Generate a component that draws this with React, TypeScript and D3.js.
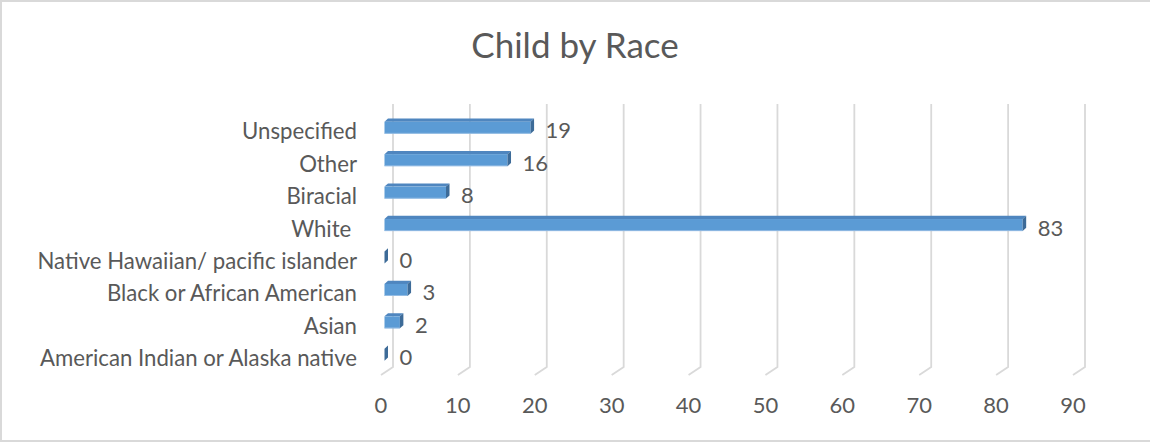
import React from "react";
import * as d3 from "d3";

// Categories listed top to bottom as they appear on the chart
const categories = [
  "Unspecified",
  "Other",
  "Biracial",
  "White ",
  "Native Hawaiian/ pacific islander",
  "Black or African American",
  "Asian",
  "American Indian or Alaska native",
];
const counts = [19, 16, 8, 83, 0, 3, 2, 0];
const tickValues = [0, 10, 20, 30, 40, 50, 60, 70, 80, 90];
const chartTitle = "Child by Race";

const W = 1150;
const H = 444;
const FONT = "Lato, 'Open Sans', sans-serif";
const TEXT = "#595959";
const GRID = "#d9d9d9";

// floor offset from the back wall to the front edge
const FLOOR_DX = -12;
const FLOOR_DY = 8;
// bar offset from the back wall, and bar depth
const BAR_DX = -8.5;
const DEPTH_X = 3.5;
const DEPTH_Y = -3.2;
const BAR_H = 12;

export default function App() {
  const x = d3.scaleLinear().domain([0, 90]).range([393, 1085]);
  const y = d3
    .scaleBand<string>()
    .domain(categories)
    .range([111.5, 371])
    .padding(0);
  const wallTop = 104;
  const wallBottom = 367;

  return (
    <svg
      width={W}
      height={H}
      style={{ position: "absolute", left: 0, top: 0, background: "#fff" }}
      fontFamily={FONT}
    >
      <rect x={1} y={1} width={W + 10} height={440} fill="#fff" stroke={GRID} strokeWidth={2} />

      <text x={W / 2} y={58} textAnchor="middle" fontSize={35} fill={TEXT}>
        {chartTitle}
      </text>

      {/* back wall gridlines with their floor segments */}
      {tickValues.map((t) => (
        <path
          key={"g" + t}
          d={`M${x(t)},${wallTop}L${x(t)},${wallBottom}L${x(t) + FLOOR_DX},${wallBottom + FLOOR_DY}`}
          fill="none"
          stroke={GRID}
          strokeWidth={1.8}
        />
      ))}

      {/* value axis tick labels along the front edge */}
      {tickValues.map((t) => (
        <text
          key={"t" + t}
          x={x(t) + FLOOR_DX}
          y={413}
          textAnchor="middle"
          fontSize={22}
          fill={TEXT}
        >
          {t}
        </text>
      ))}

      {/* category labels */}
      {categories.map((c) => (
        <text
          key={"c" + c}
          x={357}
          y={(y(c) as number) + y.bandwidth() / 2 + 3}
          textAnchor="end"
          dominantBaseline="central"
          fontSize={22.2}
          fill={TEXT}
          style={{ whiteSpace: "pre" }}
        >
          {c}
        </text>
      ))}

      {/* 3D bars: front, top and right side faces */}
      {categories.map((c, i) => {
        const v = counts[i];
        const cy = (y(c) as number) + y.bandwidth() / 2;
        const x0 = x(0) + BAR_DX;
        const x1 = x(v) + BAR_DX;
        const t = cy - BAR_H / 2;
        const b = cy + BAR_H / 2;
        return (
          <g key={"b" + c}>
            <path
              d={`M${x0},${t}L${x0 + DEPTH_X},${t + DEPTH_Y}L${x1 + DEPTH_X},${t + DEPTH_Y}L${x1},${t}Z`}
              fill="#4f86bf"
            />
            {v > 0 && (
              <rect x={x0} y={t} width={x1 - x0} height={BAR_H} fill="#5b9bd5" />
            )}
            {v > 0 && (
              <line x1={x0} x2={x1} y1={b - 0.4} y2={b - 0.4} stroke="#9fc3e6" strokeWidth={0.8} />
            )}
            <path
              d={`M${x1},${t}L${x1 + DEPTH_X},${t + DEPTH_Y}L${x1 + DEPTH_X},${b + DEPTH_Y}L${x1},${b}Z`}
              fill="#3d6b98"
            />
            <text
              x={x1 + 15}
              y={cy + 2}
              dominantBaseline="central"
              fontSize={22}
              fill={TEXT}
            >
              {v}
            </text>
          </g>
        );
      })}
    </svg>
  );
}
